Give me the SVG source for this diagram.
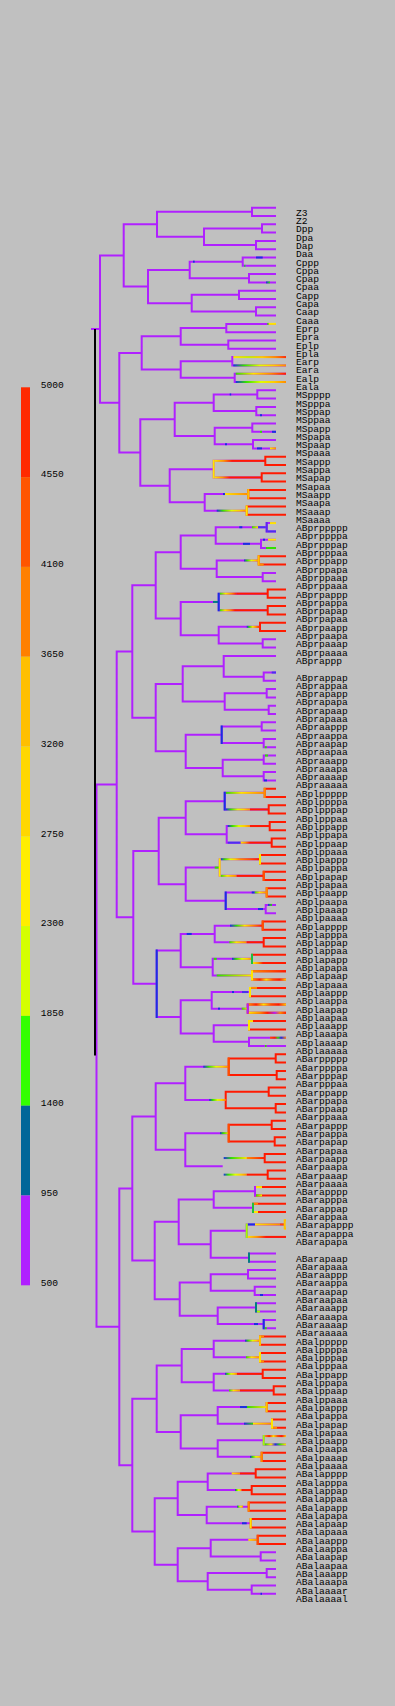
<svg xmlns="http://www.w3.org/2000/svg" width="395" height="1706" viewBox="0 0 395 1706">
<style>
.tp{fill:none;stroke:#b020ff;stroke-width:2}
.tr{fill:none;stroke:#ff1a00;stroke-width:2}
.v{fill:none;stroke-width:2;stroke-linecap:square}
.l{font-family:"Liberation Mono","DejaVu Sans Mono",monospace;font-size:9.6px;fill:#000}
</style>
<defs>
<linearGradient id="gB2G"><stop offset="0" stop-color="#1a30e0"/><stop offset="1" stop-color="#30e000"/></linearGradient>
<linearGradient id="gEa"><stop offset="0" stop-color="#ffe600"/><stop offset=".3" stop-color="#c8f000"/><stop offset=".55" stop-color="#ffd000"/><stop offset=".8" stop-color="#ff8c00"/><stop offset="1" stop-color="#ff3000"/></linearGradient>
<linearGradient id="gB2O"><stop offset="0" stop-color="#1a30e0"/><stop offset=".2" stop-color="#30e000"/><stop offset=".5" stop-color="#e0ff00"/><stop offset=".75" stop-color="#ffd000"/><stop offset="1" stop-color="#ff8c00"/></linearGradient>
<linearGradient id="gB2R"><stop offset="0" stop-color="#1a30e0"/><stop offset=".2" stop-color="#30e000"/><stop offset=".45" stop-color="#ffe600"/><stop offset=".7" stop-color="#ff8c00"/><stop offset="1" stop-color="#ff1a00"/></linearGradient>
<linearGradient id="gB2Y"><stop offset="0" stop-color="#1a30e0"/><stop offset=".35" stop-color="#30e000"/><stop offset="1" stop-color="#ffe600"/></linearGradient>
<linearGradient id="gG2Y"><stop offset="0" stop-color="#30e000"/><stop offset="1" stop-color="#ffe600"/></linearGradient>
<linearGradient id="gG2O"><stop offset="0" stop-color="#30e000"/><stop offset=".4" stop-color="#ffe600"/><stop offset="1" stop-color="#ff8c00"/></linearGradient>
<linearGradient id="gG2R"><stop offset="0" stop-color="#30e000"/><stop offset=".35" stop-color="#ffe600"/><stop offset=".7" stop-color="#ff8c00"/><stop offset="1" stop-color="#ff1a00"/></linearGradient>
<linearGradient id="gY2O"><stop offset="0" stop-color="#ffe600"/><stop offset="1" stop-color="#ff8c00"/></linearGradient>
<linearGradient id="gY2R"><stop offset="0" stop-color="#ffe600"/><stop offset=".5" stop-color="#ff9a00"/><stop offset="1" stop-color="#ff1a00"/></linearGradient>
<linearGradient id="gO2R"><stop offset="0" stop-color="#ff8c00"/><stop offset="1" stop-color="#ff1a00"/></linearGradient>
<linearGradient id="gMixA"><stop offset="0" stop-color="#ff9000"/><stop offset=".2" stop-color="#ff2000"/><stop offset=".4" stop-color="#ffe600"/><stop offset=".6" stop-color="#ff5000"/><stop offset=".8" stop-color="#ff1a00"/><stop offset="1" stop-color="#ffd000"/></linearGradient>
<linearGradient id="gMixB"><stop offset="0" stop-color="#ffe600"/><stop offset=".3" stop-color="#ff8c00"/><stop offset=".5" stop-color="#ff2000"/><stop offset=".7" stop-color="#b020ff"/><stop offset=".85" stop-color="#ff8c00"/><stop offset="1" stop-color="#ff2000"/></linearGradient>
<linearGradient id="gMixC"><stop offset="0" stop-color="#ff5000"/><stop offset=".3" stop-color="#ff1a00"/><stop offset=".5" stop-color="#30e000"/><stop offset=".7" stop-color="#1a30e0"/><stop offset="1" stop-color="#ff8c00"/></linearGradient>
<linearGradient id="gMixD"><stop offset="0" stop-color="#30e000"/><stop offset=".3" stop-color="#ffe600"/><stop offset=".5" stop-color="#1a30e0"/><stop offset=".7" stop-color="#30e000"/><stop offset="1" stop-color="#ffe600"/></linearGradient>
</defs>
<rect width="395" height="1706" fill="#c0c0c0"/>
<g id="legend">
<rect x="21" y="387.3" width="9" height="89.8" fill="#ff2a00"/>
<rect x="21" y="477.1" width="9" height="89.8" fill="#ff5500"/>
<rect x="21" y="566.9" width="9" height="89.8" fill="#ff8000"/>
<rect x="21" y="656.7" width="9" height="89.8" fill="#ffbf00"/>
<rect x="21" y="746.5" width="9" height="89.8" fill="#ffd700"/>
<rect x="21" y="836.3" width="9" height="89.8" fill="#ffee00"/>
<rect x="21" y="926.1" width="9" height="89.8" fill="#d4ff00"/>
<rect x="21" y="1015.9" width="9" height="89.8" fill="#33ff00"/>
<rect x="21" y="1105.7" width="9" height="89.8" fill="#006699"/>
<rect x="21" y="1195.5" width="9" height="89.8" fill="#b020ff"/>
<text class="l" x="40.7" y="387.5">5000</text>
<text class="l" x="40.7" y="477.3">4550</text>
<text class="l" x="40.7" y="567.1">4100</text>
<text class="l" x="40.7" y="656.9">3650</text>
<text class="l" x="40.7" y="746.7">3200</text>
<text class="l" x="40.7" y="836.5">2750</text>
<text class="l" x="40.7" y="926.3">2300</text>
<text class="l" x="40.7" y="1016.1">1850</text>
<text class="l" x="40.7" y="1105.9">1400</text>
<text class="l" x="40.7" y="1195.7">950</text>
<text class="l" x="40.7" y="1285.5">500</text>
</g>
<g id="connectors">
<path class="tp" d="M276 207.7H252V216H276M276 224.3H262V232.6H276M276 240.9H256V249.2H276M262 228.45H204V245.05H256M252 211.85H157V236.75H204M276 257.5H242.7V265.8H276M276 274.1H249V282.4H276M242.7 261.65H189.7V278.25H249M276 290.7H239V299H276M276 307.3H256V315.6H276M239 294.85H191.7V311.45H256M189.7 269.95H148V303.15H191.7M157 224.3H123.7V286.55H148M276 323.9H226.3V332.2H276M276 340.5H228.3V348.8H276M226.3 328.05H180.7V344.65H228.3M286 357.1H232.3V365.4H286M286 373.7H234.7V382H286M232.3 361.25H180.7V377.85H234.7M180.7 336.35H141.7V369.55H180.7M276 390.3H257.3V398.6H276M276 406.9H256.3V415.2H276M257.3 394.45H213.7V411.05H256.3M276 423.5H252.3V431.8H276M276 440.1H253V448.4H276M252.3 427.65H214.7V444.25H253M213.7 402.75H174.7V435.95H214.7M265.3 460.85H213.7V477.45H261.7M248.3 494.05H204.7V510.65H246.7M213.7 469.15H169.7V502.35H204.7M174.7 419.35H140.3V485.75H169.7M141.7 352.95H119.3V452.55H140.3M123.7 255.43H100V402.75H119.3M91 329.1H100
M276 523.1H266.7V531.4H276M276 539.7H261V548H276M266.7 527.25H215.7V543.85H261M258.7 560.45H216.7V577.05H262.7M276 572.9H262.7V581.2H276M215.7 535.55H180.7V568.75H216.7M267.7 593.65H218.7V610.25H267.7M260 626.85H218.7V643.45H262.7M276 639.3H262.7V647.6H276M218.7 601.95H180.7V635.15H218.7M180.7 552.15H155.7V618.55H180.7M276 672.5H263.7V680.8H276M276 655.9H223.7V676.65H263.7M276 689.1H266.7V697.4H276M276 705.7H268.7V714H276M266.7 693.25H224.7V709.85H268.7M223.7 666.28H182.7V701.55H224.7M276 722.3H261.7V730.6H276M276 738.9H263.7V747.2H276M261.7 726.45H221.7V743.05H263.7M276 755.5H263.7V763.8H276M276 772.1H263.7V780.4H276M263.7 759.65H222.7V776.25H263.7M221.7 734.75H185.7V767.95H222.7M182.7 683.9H155.7V751.35H185.7M155.7 585.35H132.3V717.63H155.7
M264.7 792.85H224.7V809.45H268.7M269.7 826.05H226.7V842.65H271.7M224.7 801.15H185.7V834.35H226.7M260 859.25H219.7V875.85H263.7M266.7 892.45H225.7V909.05H265.7M276 904.9H265.7V913.2H276M219.7 867.55H185.7V900.75H225.7M185.7 817.75H158.7V884.15H185.7M262.7 925.65H214.7V942.25H263.7M252 958.85H212.7V975.45H252M214.7 933.95H180.7V967.15H212.7M250 992.05H211.7V1008.65H247.7M249 1025.25H213.7V1041.85H249M286 1037.7H249V1046H286M211.7 1000.35H180.7V1033.55H213.7M180.7 950.55H156.7V1016.95H180.7M158.7 850.95H133.3V983.75H156.7M132.3 651.49H116.7V917.35H133.3
M228.7 1066.75H185.3V1099.95H225.7M228.7 1133.15H185.3V1166.35H222.7M185.3 1083.35H155.7V1149.75H185.3M255 1191.25H213.7V1207.85H253M284.7 1224.45H246.7V1236.9H286M246.7 1230.68H210.7V1257.65H249M276 1253.5H249V1261.8H276M213.7 1199.55H178.7V1244.16H210.7M276 1270.1H248V1278.4H276M276 1286.7H254.7V1295H276M248 1274.25H210.7V1290.85H254.7M276 1303.3H256V1311.6H276M276 1319.9H263.7V1328.2H276M256 1307.45H217.7V1324.05H263.7M210.7 1282.55H179.7V1315.75H217.7M178.7 1221.86H154.7V1299.15H179.7M155.7 1116.55H132.3V1260.5H154.7
M260 1340.65H213.7V1357.25H260M262.7 1373.85H213.7V1390.45H273.7M213.7 1348.95H181.7V1382.15H213.7M266.7 1407.05H217.7V1423.65H272M263.7 1440.25H217.7V1456.85H261.7M286 1436.1H263.7V1444.4H286M217.7 1415.35H180.7V1448.55H217.7M181.7 1365.55H156.7V1431.95H180.7M255.7 1473.45H207.7V1490.05H251.7M248.7 1506.65H206.7V1523.25H250.7M207.7 1481.75H177.7V1514.95H206.7M257.7 1539.85H210.7V1556.45H260.7M276 1552.3H260.7V1560.6H276M276 1568.9H266.7V1577.2H276M276 1585.5H251.7V1593.8H276M266.7 1573.05H207.7V1589.65H251.7M210.7 1548.15H177.7V1581.35H207.7M177.7 1498.35H154.7V1564.75H177.7M156.7 1398.75H132.3V1531.55H154.7M132.3 1188.53H119.3V1465.15H132.3M116.7 784.42H96.5V1326.84H119.3"/>
<path class="tr" d="M286 456.7H265.3V465H286M286 473.3H261.7V481.6H286M286 489.9H248.3V498.2H286M286 506.5H246.7V514.8H286M286 556.3H258.7V564.6H286M286 589.5H267.7V597.8H286M286 606.1H267.7V614.4H286M286 622.7H260V631H286M276 788.7H264.7V797H286M286 805.3H268.7V813.6H286M286 821.9H269.7V830.2H286M286 838.5H271.7V846.8H286M286 855.1H260V863.4H286M286 871.7H263.7V880H286M286 888.3H266.7V896.6H286M286 921.5H262.7V929.8H286M286 938.1H263.7V946.4H286M286 954.7H252V963H286M286 971.3H252V979.6H286M286 987.9H250V996.2H286M286 1004.5H247.7V1012.8H286M286 1021.1H249V1029.4H286M286 1054.3H275.7V1062.6H286M286 1070.9H276.7V1079.2H286M275.7 1058.45H228.7V1075.05H276.7M286 1087.5H268.7V1095.8H286M286 1104.1H275.7V1112.4H286M268.7 1091.65H225.7V1108.25H275.7M286 1120.7H271.7V1129H286M286 1137.3H274.7V1145.6H286M271.7 1124.85H228.7V1141.45H274.7M286 1153.9H264.7V1162.2H286M286 1170.5H267.7V1178.8H286M286 1187.1H255V1195.4H286M286 1203.7H253V1212H286M286 1336.5H260V1344.8H286M286 1353.1H260V1361.4H286M286 1369.7H262.7V1378H286M286 1386.3H273.7V1394.6H286M286 1402.9H266.7V1411.2H286M286 1419.5H272V1427.8H286M286 1452.7H261.7V1461H286M286 1469.3H255.7V1477.6H286M286 1485.9H251.7V1494.2H286M286 1502.5H248.7V1510.8H286M286 1519.1H250.7V1527.4H286M286 1535.7H257.7V1544H286"/>
<path d="M95 329.1V1055.6" fill="none" stroke="#000" stroke-width="2"/>
<g id="segments">
<rect x="256" y="256.5" width="6.7" height="2" fill="#1a30e0"/>
<rect x="193" y="260.65" width="1.7" height="2" fill="#1a30e0"/>
<rect x="244" y="264.8" width="1.5" height="2" fill="#30c040"/>
<rect x="266" y="281.4" width="4" height="2" fill="url(#gB2G)"/>
<rect x="267.3" y="322.9" width="1.4" height="2" fill="#30e000"/>
<rect x="268.7" y="322.9" width="7.3" height="2" fill="#ffe600"/>
<rect x="233.3" y="356.1" width="52.7" height="2" fill="url(#gEa)"/>
<rect x="233.3" y="364.4" width="52.7" height="2" fill="url(#gB2O)"/>
<rect x="235.7" y="372.7" width="50.3" height="2" fill="url(#gG2R)"/>
<rect x="235.7" y="381" width="50.3" height="2" fill="url(#gB2O)"/>
<rect x="229.7" y="393.45" width="1.5" height="2" fill="#1a30e0"/>
<rect x="260" y="414.2" width="2" height="2" fill="#1a30e0"/>
<rect x="225" y="443.25" width="2" height="2" fill="#1a30e0"/>
<rect x="260" y="430.8" width="2" height="2" fill="#30e000"/>
<rect x="272" y="430.8" width="4" height="2" fill="#1a30e0"/>
<rect x="257" y="447.4" width="5" height="2" fill="#1a30e0"/>
<rect x="270" y="447.4" width="6" height="2" fill="url(#gY2O)"/>
<rect x="214.7" y="459.85" width="17.3" height="2" fill="url(#gY2R)"/>
<rect x="232" y="459.85" width="33.3" height="2" fill="#ff1a00"/>
<rect x="214.7" y="476.45" width="15.3" height="2" fill="url(#gY2R)"/>
<rect x="230" y="476.45" width="31.7" height="2" fill="#ff1a00"/>
<rect x="223" y="493.05" width="2" height="2" fill="#1a30e0"/>
<rect x="225" y="493.05" width="23.3" height="2" fill="url(#gY2O)"/>
<rect x="216.7" y="509.65" width="30" height="2" fill="url(#gB2O)"/>
<rect x="239.3" y="526.25" width="3" height="2" fill="#1a30e0"/>
<rect x="252" y="526.25" width="6" height="2" fill="url(#gG2Y)"/>
<rect x="258" y="526.25" width="7.7" height="2" fill="#4a30f0"/>
<rect x="270" y="522.1" width="6" height="2" fill="#ffe600"/>
<rect x="267.7" y="530.4" width="8.3" height="2" fill="#4a30f0"/>
<rect x="243" y="542.85" width="7" height="2" fill="#1a30e0"/>
<rect x="263" y="538.7" width="2" height="2" fill="#1a30e0"/>
<rect x="268" y="538.7" width="8" height="2" fill="#ffe600"/>
<rect x="266" y="547" width="10" height="2" fill="#30e000"/>
<rect x="244" y="559.45" width="14.7" height="2" fill="url(#gB2O)"/>
<rect x="259.7" y="563.6" width="4" height="2" fill="#ff8c00"/>
<rect x="213" y="600.95" width="5" height="2" fill="#008080"/>
<rect x="219.7" y="592.65" width="17" height="2" fill="url(#gG2R)"/>
<rect x="236.7" y="592.65" width="31" height="2" fill="#ff1a00"/>
<rect x="219.7" y="609.25" width="15.3" height="2" fill="url(#gG2R)"/>
<rect x="235" y="609.25" width="32.7" height="2" fill="#ff1a00"/>
<rect x="246.7" y="625.85" width="13.3" height="2" fill="url(#gB2R)"/>
<rect x="271.7" y="671.5" width="4.3" height="2" fill="#4a30f0"/>
<rect x="264.7" y="746.2" width="2" height="2" fill="#30e000"/>
<rect x="265" y="754.5" width="3" height="2" fill="#30e000"/>
<rect x="264" y="779.4" width="3" height="2" fill="#1a30e0"/>
<rect x="225.7" y="791.85" width="39" height="2" fill="url(#gG2O)"/>
<rect x="225.7" y="808.45" width="24.3" height="2" fill="url(#gB2O)"/>
<rect x="250" y="808.45" width="18.7" height="2" fill="#ff1a00"/>
<rect x="227.7" y="825.05" width="22.3" height="2" fill="url(#gB2O)"/>
<rect x="250" y="825.05" width="19.7" height="2" fill="#ff1a00"/>
<rect x="227.7" y="841.65" width="13" height="2" fill="#4a30f0"/>
<rect x="240.7" y="841.65" width="9.3" height="2" fill="url(#gY2R)"/>
<rect x="250" y="841.65" width="21.7" height="2" fill="#ff1a00"/>
<rect x="214.7" y="866.55" width="5" height="2" fill="#30e000"/>
<rect x="220.7" y="858.25" width="19.3" height="2" fill="url(#gB2O)"/>
<rect x="240" y="858.25" width="20" height="2" fill="url(#gO2R)"/>
<rect x="220.7" y="874.85" width="16" height="2" fill="url(#gG2O)"/>
<rect x="236.7" y="874.85" width="27" height="2" fill="#ff1a00"/>
<rect x="251.7" y="891.45" width="3" height="2" fill="#1a30e0"/>
<rect x="254.7" y="891.45" width="12" height="2" fill="url(#gG2O)"/>
<rect x="258" y="908.05" width="5" height="2" fill="#1a30e0"/>
<rect x="268" y="903.9" width="4" height="2" fill="url(#gB2G)"/>
<rect x="186.7" y="932.95" width="5" height="2" fill="#1a30e0"/>
<rect x="230" y="924.65" width="32.7" height="2" fill="url(#gB2R)"/>
<rect x="229.3" y="941.25" width="17.4" height="2" fill="url(#gG2O)"/>
<rect x="246.7" y="941.25" width="17" height="2" fill="#ff1a00"/>
<rect x="213.7" y="957.85" width="3" height="2" fill="#30e000"/>
<rect x="232" y="957.85" width="20" height="2" fill="url(#gB2O)"/>
<rect x="216.7" y="974.45" width="35.3" height="2" fill="url(#gG2Y)"/>
<rect x="253" y="962" width="10" height="2" fill="url(#gY2R)"/>
<rect x="253" y="970.3" width="33" height="2" fill="url(#gO2R)"/>
<rect x="253" y="978.6" width="33" height="2" fill="url(#gMixA)"/>
<rect x="232" y="991.05" width="2" height="2" fill="#1a30e0"/>
<rect x="242" y="991.05" width="6" height="2" fill="#4a30f0"/>
<rect x="218" y="1007.65" width="2" height="2" fill="#1a30e0"/>
<rect x="241.7" y="1007.65" width="6" height="2" fill="url(#gG2Y)"/>
<rect x="251" y="986.9" width="6" height="2" fill="#ff8c00"/>
<rect x="248.7" y="1003.5" width="37.3" height="2" fill="url(#gMixA)"/>
<rect x="248.7" y="1011.8" width="37.3" height="2" fill="url(#gMixB)"/>
<rect x="250" y="1020.1" width="3" height="2" fill="#ffe600"/>
<rect x="270" y="1036.7" width="16" height="2" fill="url(#gMixC)"/>
<rect x="265" y="1045" width="1.5" height="2" fill="#30e000"/>
<rect x="203.3" y="1065.75" width="25.4" height="2" fill="url(#gB2O)"/>
<rect x="209.3" y="1098.95" width="16.4" height="2" fill="url(#gB2O)"/>
<rect x="220" y="1132.15" width="8.7" height="2" fill="url(#gB2Y)"/>
<rect x="223.7" y="1157.05" width="23" height="2" fill="url(#gB2Y)"/>
<rect x="246.7" y="1157.05" width="18" height="2" fill="url(#gO2R)"/>
<rect x="223.7" y="1173.65" width="23" height="2" fill="url(#gB2O)"/>
<rect x="246.7" y="1173.65" width="21" height="2" fill="#ff1a00"/>
<rect x="256" y="1186.1" width="6" height="2" fill="#ffe600"/>
<rect x="256" y="1194.4" width="6" height="2" fill="url(#gG2Y)"/>
<rect x="254" y="1202.7" width="4" height="2" fill="#ff8c00"/>
<rect x="254" y="1211" width="4" height="2" fill="#ffe600"/>
<rect x="248" y="1223.45" width="7" height="2" fill="#1a30e0"/>
<rect x="255" y="1223.45" width="25" height="2" fill="url(#gY2O)"/>
<rect x="280" y="1223.45" width="4.7" height="2" fill="#ff5000"/>
<rect x="247.7" y="1235.9" width="18.3" height="2" fill="url(#gY2R)"/>
<rect x="266" y="1235.9" width="20" height="2" fill="#ff1a00"/>
<rect x="260" y="1294" width="3" height="2" fill="#1a30e0"/>
<rect x="257" y="1310.6" width="3" height="2" fill="#a0ff00"/>
<rect x="254" y="1323.05" width="4" height="2" fill="#1a30e0"/>
<rect x="264.7" y="1327.2" width="2" height="2" fill="#30e000"/>
<rect x="245" y="1339.65" width="15" height="2" fill="url(#gB2O)"/>
<rect x="246" y="1356.25" width="14" height="2" fill="url(#gG2O)"/>
<rect x="261" y="1335.5" width="3" height="2" fill="#ff8c00"/>
<rect x="261" y="1360.4" width="3" height="2" fill="#ff8c00"/>
<rect x="225" y="1372.85" width="12" height="2" fill="url(#gB2O)"/>
<rect x="237" y="1372.85" width="25.7" height="2" fill="#ff1a00"/>
<rect x="229" y="1389.45" width="11" height="2" fill="url(#gG2O)"/>
<rect x="240" y="1389.45" width="33.7" height="2" fill="#ff1a00"/>
<rect x="240" y="1406.05" width="7" height="2" fill="#1a30e0"/>
<rect x="247" y="1406.05" width="19.7" height="2" fill="url(#gG2Y)"/>
<rect x="244" y="1422.65" width="9" height="2" fill="url(#gB2G)"/>
<rect x="253" y="1422.65" width="19" height="2" fill="url(#gY2O)"/>
<rect x="273" y="1426.8" width="4" height="2" fill="#ff8c00"/>
<rect x="265" y="1435.1" width="21" height="2" fill="url(#gMixA)"/>
<rect x="264.7" y="1443.4" width="21.3" height="2" fill="url(#gMixD)"/>
<rect x="250" y="1455.85" width="11.7" height="2" fill="url(#gB2O)"/>
<rect x="231.7" y="1472.45" width="8.3" height="2" fill="url(#gY2O)"/>
<rect x="240" y="1472.45" width="15.7" height="2" fill="#ff1a00"/>
<rect x="235" y="1489.05" width="6.7" height="2" fill="url(#gB2O)"/>
<rect x="241.7" y="1489.05" width="10" height="2" fill="#ff1a00"/>
<rect x="237" y="1505.65" width="6" height="2" fill="url(#gB2O)"/>
<rect x="242" y="1522.25" width="4.7" height="2" fill="#1a30e0"/>
<rect x="248.3" y="1538.85" width="9.4" height="2" fill="url(#gY2O)"/>
<rect x="260.5" y="1592.8" width="1.5" height="2" fill="#1a30e0"/>
</g>
<path class="v" stroke="#ffe600" d="M213.7 460.85V477.45M246.7 506.5V514.8M219.7 859.25V875.85M260 855.1V863.4M252 971.3V979.6M250 987.9V996.2M249 1021.1V1029.4M260 1353.1V1361.4M272 1419.5V1427.8M250.7 1519.1V1527.4"/>
<path class="v" stroke="#ffc000" d="M248.3 489.9V498.2M258.7 556.3V564.6M284.7 1220.3V1228.6M260 1336.5V1344.8M266.7 1402.9V1411.2"/>
<path fill="none" stroke="#ffc000" stroke-width="2" d="M284.7 1220.3H286M284.7 1228.6H286"/>
<path class="v" stroke="#ff8c00" d="M264.7 788.7V797M266.7 888.3V896.6M261.7 1452.7V1461M248.7 1502.5V1510.8"/>
<path class="v" stroke="#ff5000" d="M263.7 871.7V880M262.7 921.5V929.8M228.7 1124.85V1141.45M257.7 1535.7V1544M228.7 1058.45V1075.05"/>
<path class="v" stroke="#1a30e0" d="M218.7 593.65V610.25M221.7 726.45V743.05M224.7 792.85V809.45M225.7 892.45V909.05M156.7 950.55V1016.95M263.7 1319.9V1328.2"/>
<path class="v" stroke="#5a28f0" d="M266.7 523.1V531.4"/>
<path class="v" stroke="#008080" d="M249 1253.5V1261.8M256 1303.3V1311.6"/>
<path class="v" stroke="#20c040" d="M252 954.7V963M253 1203.7V1212"/>
<path class="v" stroke="#a0ff00" d="M246.7 1224.45V1236.9M263.7 1436.1V1444.4"/>
<path class="v" stroke="#b020ff" d="M255 1187.1V1195.4M247.7 1004.5V1012.8"/>
</g>
<g id="leaves">
<g id="n-Z3"><text class="l" x="296" y="215.7">Z3</text></g>
<g id="n-Z2"><text class="l" x="296" y="224">Z2</text></g>
<g id="n-Dpp"><text class="l" x="296" y="232.3">Dpp</text></g>
<g id="n-Dpa"><text class="l" x="296" y="240.6">Dpa</text></g>
<g id="n-Dap"><text class="l" x="296" y="248.9">Dap</text></g>
<g id="n-Daa"><text class="l" x="296" y="257.2">Daa</text></g>
<g id="n-Cppp"><text class="l" x="296" y="265.5">Cppp</text></g>
<g id="n-Cppa"><text class="l" x="296" y="273.8">Cppa</text></g>
<g id="n-Cpap"><text class="l" x="296" y="282.1">Cpap</text></g>
<g id="n-Cpaa"><text class="l" x="296" y="290.4">Cpaa</text></g>
<g id="n-Capp"><text class="l" x="296" y="298.7">Capp</text></g>
<g id="n-Capa"><text class="l" x="296" y="307">Capa</text></g>
<g id="n-Caap"><text class="l" x="296" y="315.3">Caap</text></g>
<g id="n-Caaa"><text class="l" x="296" y="323.6">Caaa</text></g>
<g id="n-Eprp"><text class="l" x="296" y="331.9">Eprp</text></g>
<g id="n-Epra"><text class="l" x="296" y="340.2">Epra</text></g>
<g id="n-Eplp"><text class="l" x="296" y="348.5">Eplp</text></g>
<g id="n-Epla"><text class="l" x="296" y="356.8">Epla</text></g>
<g id="n-Earp"><text class="l" x="296" y="365.1">Earp</text></g>
<g id="n-Eara"><text class="l" x="296" y="373.4">Eara</text></g>
<g id="n-Ealp"><text class="l" x="296" y="381.7">Ealp</text></g>
<g id="n-Eala"><text class="l" x="296" y="390">Eala</text></g>
<g id="n-MSpppp"><text class="l" x="296" y="398.3">MSpppp</text></g>
<g id="n-MSpppa"><text class="l" x="296" y="406.6">MSpppa</text></g>
<g id="n-MSppap"><text class="l" x="296" y="414.9">MSppap</text></g>
<g id="n-MSppaa"><text class="l" x="296" y="423.2">MSppaa</text></g>
<g id="n-MSpapp"><text class="l" x="296" y="431.5">MSpapp</text></g>
<g id="n-MSpapa"><text class="l" x="296" y="439.8">MSpapa</text></g>
<g id="n-MSpaap"><text class="l" x="296" y="448.1">MSpaap</text></g>
<g id="n-MSpaaa"><text class="l" x="296" y="456.4">MSpaaa</text></g>
<g id="n-MSappp"><text class="l" x="296" y="464.7">MSappp</text></g>
<g id="n-MSappa"><text class="l" x="296" y="473">MSappa</text></g>
<g id="n-MSapap"><text class="l" x="296" y="481.3">MSapap</text></g>
<g id="n-MSapaa"><text class="l" x="296" y="489.6">MSapaa</text></g>
<g id="n-MSaapp"><text class="l" x="296" y="497.9">MSaapp</text></g>
<g id="n-MSaapa"><text class="l" x="296" y="506.2">MSaapa</text></g>
<g id="n-MSaaap"><text class="l" x="296" y="514.5">MSaaap</text></g>
<g id="n-MSaaaa"><text class="l" x="296" y="522.8">MSaaaa</text></g>
<g id="n-ABprppppp"><text class="l" x="296" y="531.1">ABprppppp</text></g>
<g id="n-ABprppppa"><text class="l" x="296" y="539.4">ABprppppa</text></g>
<g id="n-ABprpppap"><text class="l" x="296" y="547.7">ABprpppap</text></g>
<g id="n-ABprpppaa"><text class="l" x="296" y="556">ABprpppaa</text></g>
<g id="n-ABprppapp"><text class="l" x="296" y="564.3">ABprppapp</text></g>
<g id="n-ABprppapa"><text class="l" x="296" y="572.6">ABprppapa</text></g>
<g id="n-ABprppaap"><text class="l" x="296" y="580.9">ABprppaap</text></g>
<g id="n-ABprppaaa"><text class="l" x="296" y="589.2">ABprppaaa</text></g>
<g id="n-ABprpappp"><text class="l" x="296" y="597.5">ABprpappp</text></g>
<g id="n-ABprpappa"><text class="l" x="296" y="605.8">ABprpappa</text></g>
<g id="n-ABprpapap"><text class="l" x="296" y="614.1">ABprpapap</text></g>
<g id="n-ABprpapaa"><text class="l" x="296" y="622.4">ABprpapaa</text></g>
<g id="n-ABprpaapp"><text class="l" x="296" y="630.7">ABprpaapp</text></g>
<g id="n-ABprpaapa"><text class="l" x="296" y="639">ABprpaapa</text></g>
<g id="n-ABprpaaap"><text class="l" x="296" y="647.3">ABprpaaap</text></g>
<g id="n-ABprpaaaa"><text class="l" x="296" y="655.6">ABprpaaaa</text></g>
<g id="n-ABprappp"><text class="l" x="296" y="663.9">ABprappp</text></g>
<g id="n-ABprappap"><text class="l" x="296" y="680.5">ABprappap</text></g>
<g id="n-ABprappaa"><text class="l" x="296" y="688.8">ABprappaa</text></g>
<g id="n-ABprapapp"><text class="l" x="296" y="697.1">ABprapapp</text></g>
<g id="n-ABprapapa"><text class="l" x="296" y="705.4">ABprapapa</text></g>
<g id="n-ABprapaap"><text class="l" x="296" y="713.7">ABprapaap</text></g>
<g id="n-ABprapaaa"><text class="l" x="296" y="722">ABprapaaa</text></g>
<g id="n-ABpraappp"><text class="l" x="296" y="730.3">ABpraappp</text></g>
<g id="n-ABpraappa"><text class="l" x="296" y="738.6">ABpraappa</text></g>
<g id="n-ABpraapap"><text class="l" x="296" y="746.9">ABpraapap</text></g>
<g id="n-ABpraapaa"><text class="l" x="296" y="755.2">ABpraapaa</text></g>
<g id="n-ABpraaapp"><text class="l" x="296" y="763.5">ABpraaapp</text></g>
<g id="n-ABpraaapa"><text class="l" x="296" y="771.8">ABpraaapa</text></g>
<g id="n-ABpraaaap"><text class="l" x="296" y="780.1">ABpraaaap</text></g>
<g id="n-ABpraaaaa"><text class="l" x="296" y="788.4">ABpraaaaa</text></g>
<g id="n-ABplppppp"><text class="l" x="296" y="796.7">ABplppppp</text></g>
<g id="n-ABplppppa"><text class="l" x="296" y="805">ABplppppa</text></g>
<g id="n-ABplpppap"><text class="l" x="296" y="813.3">ABplpppap</text></g>
<g id="n-ABplpppaa"><text class="l" x="296" y="821.6">ABplpppaa</text></g>
<g id="n-ABplppapp"><text class="l" x="296" y="829.9">ABplppapp</text></g>
<g id="n-ABplppapa"><text class="l" x="296" y="838.2">ABplppapa</text></g>
<g id="n-ABplppaap"><text class="l" x="296" y="846.5">ABplppaap</text></g>
<g id="n-ABplppaaa"><text class="l" x="296" y="854.8">ABplppaaa</text></g>
<g id="n-ABplpappp"><text class="l" x="296" y="863.1">ABplpappp</text></g>
<g id="n-ABplpappa"><text class="l" x="296" y="871.4">ABplpappa</text></g>
<g id="n-ABplpapap"><text class="l" x="296" y="879.7">ABplpapap</text></g>
<g id="n-ABplpapaa"><text class="l" x="296" y="888">ABplpapaa</text></g>
<g id="n-ABplpaapp"><text class="l" x="296" y="896.3">ABplpaapp</text></g>
<g id="n-ABplpaapa"><text class="l" x="296" y="904.6">ABplpaapa</text></g>
<g id="n-ABplpaaap"><text class="l" x="296" y="912.9">ABplpaaap</text></g>
<g id="n-ABplpaaaa"><text class="l" x="296" y="921.2">ABplpaaaa</text></g>
<g id="n-ABplapppp"><text class="l" x="296" y="929.5">ABplapppp</text></g>
<g id="n-ABplapppa"><text class="l" x="296" y="937.8">ABplapppa</text></g>
<g id="n-ABplappap"><text class="l" x="296" y="946.1">ABplappap</text></g>
<g id="n-ABplappaa"><text class="l" x="296" y="954.4">ABplappaa</text></g>
<g id="n-ABplapapp"><text class="l" x="296" y="962.7">ABplapapp</text></g>
<g id="n-ABplapapa"><text class="l" x="296" y="971">ABplapapa</text></g>
<g id="n-ABplapaap"><text class="l" x="296" y="979.3">ABplapaap</text></g>
<g id="n-ABplapaaa"><text class="l" x="296" y="987.6">ABplapaaa</text></g>
<g id="n-ABplaappp"><text class="l" x="296" y="995.9">ABplaappp</text></g>
<g id="n-ABplaappa"><text class="l" x="296" y="1004.2">ABplaappa</text></g>
<g id="n-ABplaapap"><text class="l" x="296" y="1012.5">ABplaapap</text></g>
<g id="n-ABplaapaa"><text class="l" x="296" y="1020.8">ABplaapaa</text></g>
<g id="n-ABplaaapp"><text class="l" x="296" y="1029.1">ABplaaapp</text></g>
<g id="n-ABplaaapa"><text class="l" x="296" y="1037.4">ABplaaapa</text></g>
<g id="n-ABplaaaap"><text class="l" x="296" y="1045.7">ABplaaaap</text></g>
<g id="n-ABplaaaaa"><text class="l" x="296" y="1054">ABplaaaaa</text></g>
<g id="n-ABarppppp"><text class="l" x="296" y="1062.3">ABarppppp</text></g>
<g id="n-ABarppppa"><text class="l" x="296" y="1070.6">ABarppppa</text></g>
<g id="n-ABarpppap"><text class="l" x="296" y="1078.9">ABarpppap</text></g>
<g id="n-ABarpppaa"><text class="l" x="296" y="1087.2">ABarpppaa</text></g>
<g id="n-ABarppapp"><text class="l" x="296" y="1095.5">ABarppapp</text></g>
<g id="n-ABarppapa"><text class="l" x="296" y="1103.8">ABarppapa</text></g>
<g id="n-ABarppaap"><text class="l" x="296" y="1112.1">ABarppaap</text></g>
<g id="n-ABarppaaa"><text class="l" x="296" y="1120.4">ABarppaaa</text></g>
<g id="n-ABarpappp"><text class="l" x="296" y="1128.7">ABarpappp</text></g>
<g id="n-ABarpappa"><text class="l" x="296" y="1137">ABarpappa</text></g>
<g id="n-ABarpapap"><text class="l" x="296" y="1145.3">ABarpapap</text></g>
<g id="n-ABarpapaa"><text class="l" x="296" y="1153.6">ABarpapaa</text></g>
<g id="n-ABarpaapp"><text class="l" x="296" y="1161.9">ABarpaapp</text></g>
<g id="n-ABarpaapa"><text class="l" x="296" y="1170.2">ABarpaapa</text></g>
<g id="n-ABarpaaap"><text class="l" x="296" y="1178.5">ABarpaaap</text></g>
<g id="n-ABarpaaaa"><text class="l" x="296" y="1186.8">ABarpaaaa</text></g>
<g id="n-ABarapppp"><text class="l" x="296" y="1195.1">ABarapppp</text></g>
<g id="n-ABarapppa"><text class="l" x="296" y="1203.4">ABarapppa</text></g>
<g id="n-ABarappap"><text class="l" x="296" y="1211.7">ABarappap</text></g>
<g id="n-ABarappaa"><text class="l" x="296" y="1220">ABarappaa</text></g>
<g id="n-ABarapappp"><text class="l" x="296" y="1228.3">ABarapappp</text></g>
<g id="n-ABarapappa"><text class="l" x="296" y="1236.6">ABarapappa</text></g>
<g id="n-ABarapapa"><text class="l" x="296" y="1244.9">ABarapapa</text></g>
<g id="n-ABarapaap"><text class="l" x="296" y="1261.5">ABarapaap</text></g>
<g id="n-ABarapaaa"><text class="l" x="296" y="1269.8">ABarapaaa</text></g>
<g id="n-ABaraappp"><text class="l" x="296" y="1278.1">ABaraappp</text></g>
<g id="n-ABaraappa"><text class="l" x="296" y="1286.4">ABaraappa</text></g>
<g id="n-ABaraapap"><text class="l" x="296" y="1294.7">ABaraapap</text></g>
<g id="n-ABaraapaa"><text class="l" x="296" y="1303">ABaraapaa</text></g>
<g id="n-ABaraaapp"><text class="l" x="296" y="1311.3">ABaraaapp</text></g>
<g id="n-ABaraaapa"><text class="l" x="296" y="1319.6">ABaraaapa</text></g>
<g id="n-ABaraaaap"><text class="l" x="296" y="1327.9">ABaraaaap</text></g>
<g id="n-ABaraaaaa"><text class="l" x="296" y="1336.2">ABaraaaaa</text></g>
<g id="n-ABalppppp"><text class="l" x="296" y="1344.5">ABalppppp</text></g>
<g id="n-ABalppppa"><text class="l" x="296" y="1352.8">ABalppppa</text></g>
<g id="n-ABalpppap"><text class="l" x="296" y="1361.1">ABalpppap</text></g>
<g id="n-ABalpppaa"><text class="l" x="296" y="1369.4">ABalpppaa</text></g>
<g id="n-ABalppapp"><text class="l" x="296" y="1377.7">ABalppapp</text></g>
<g id="n-ABalppapa"><text class="l" x="296" y="1386">ABalppapa</text></g>
<g id="n-ABalppaap"><text class="l" x="296" y="1394.3">ABalppaap</text></g>
<g id="n-ABalppaaa"><text class="l" x="296" y="1402.6">ABalppaaa</text></g>
<g id="n-ABalpappp"><text class="l" x="296" y="1410.9">ABalpappp</text></g>
<g id="n-ABalpappa"><text class="l" x="296" y="1419.2">ABalpappa</text></g>
<g id="n-ABalpapap"><text class="l" x="296" y="1427.5">ABalpapap</text></g>
<g id="n-ABalpapaa"><text class="l" x="296" y="1435.8">ABalpapaa</text></g>
<g id="n-ABalpaapp"><text class="l" x="296" y="1444.1">ABalpaapp</text></g>
<g id="n-ABalpaapa"><text class="l" x="296" y="1452.4">ABalpaapa</text></g>
<g id="n-ABalpaaap"><text class="l" x="296" y="1460.7">ABalpaaap</text></g>
<g id="n-ABalpaaaa"><text class="l" x="296" y="1469">ABalpaaaa</text></g>
<g id="n-ABalapppp"><text class="l" x="296" y="1477.3">ABalapppp</text></g>
<g id="n-ABalapppa"><text class="l" x="296" y="1485.6">ABalapppa</text></g>
<g id="n-ABalappap"><text class="l" x="296" y="1493.9">ABalappap</text></g>
<g id="n-ABalappaa"><text class="l" x="296" y="1502.2">ABalappaa</text></g>
<g id="n-ABalapapp"><text class="l" x="296" y="1510.5">ABalapapp</text></g>
<g id="n-ABalapapa"><text class="l" x="296" y="1518.8">ABalapapa</text></g>
<g id="n-ABalapaap"><text class="l" x="296" y="1527.1">ABalapaap</text></g>
<g id="n-ABalapaaa"><text class="l" x="296" y="1535.4">ABalapaaa</text></g>
<g id="n-ABalaappp"><text class="l" x="296" y="1543.7">ABalaappp</text></g>
<g id="n-ABalaappa"><text class="l" x="296" y="1552">ABalaappa</text></g>
<g id="n-ABalaapap"><text class="l" x="296" y="1560.3">ABalaapap</text></g>
<g id="n-ABalaapaa"><text class="l" x="296" y="1568.6">ABalaapaa</text></g>
<g id="n-ABalaaapp"><text class="l" x="296" y="1576.9">ABalaaapp</text></g>
<g id="n-ABalaaapa"><text class="l" x="296" y="1585.2">ABalaaapa</text></g>
<g id="n-ABalaaaar"><text class="l" x="296" y="1593.5">ABalaaaar</text></g>
<g id="n-ABalaaaal"><text class="l" x="296" y="1601.8">ABalaaaal</text></g>
</g>
</svg>
